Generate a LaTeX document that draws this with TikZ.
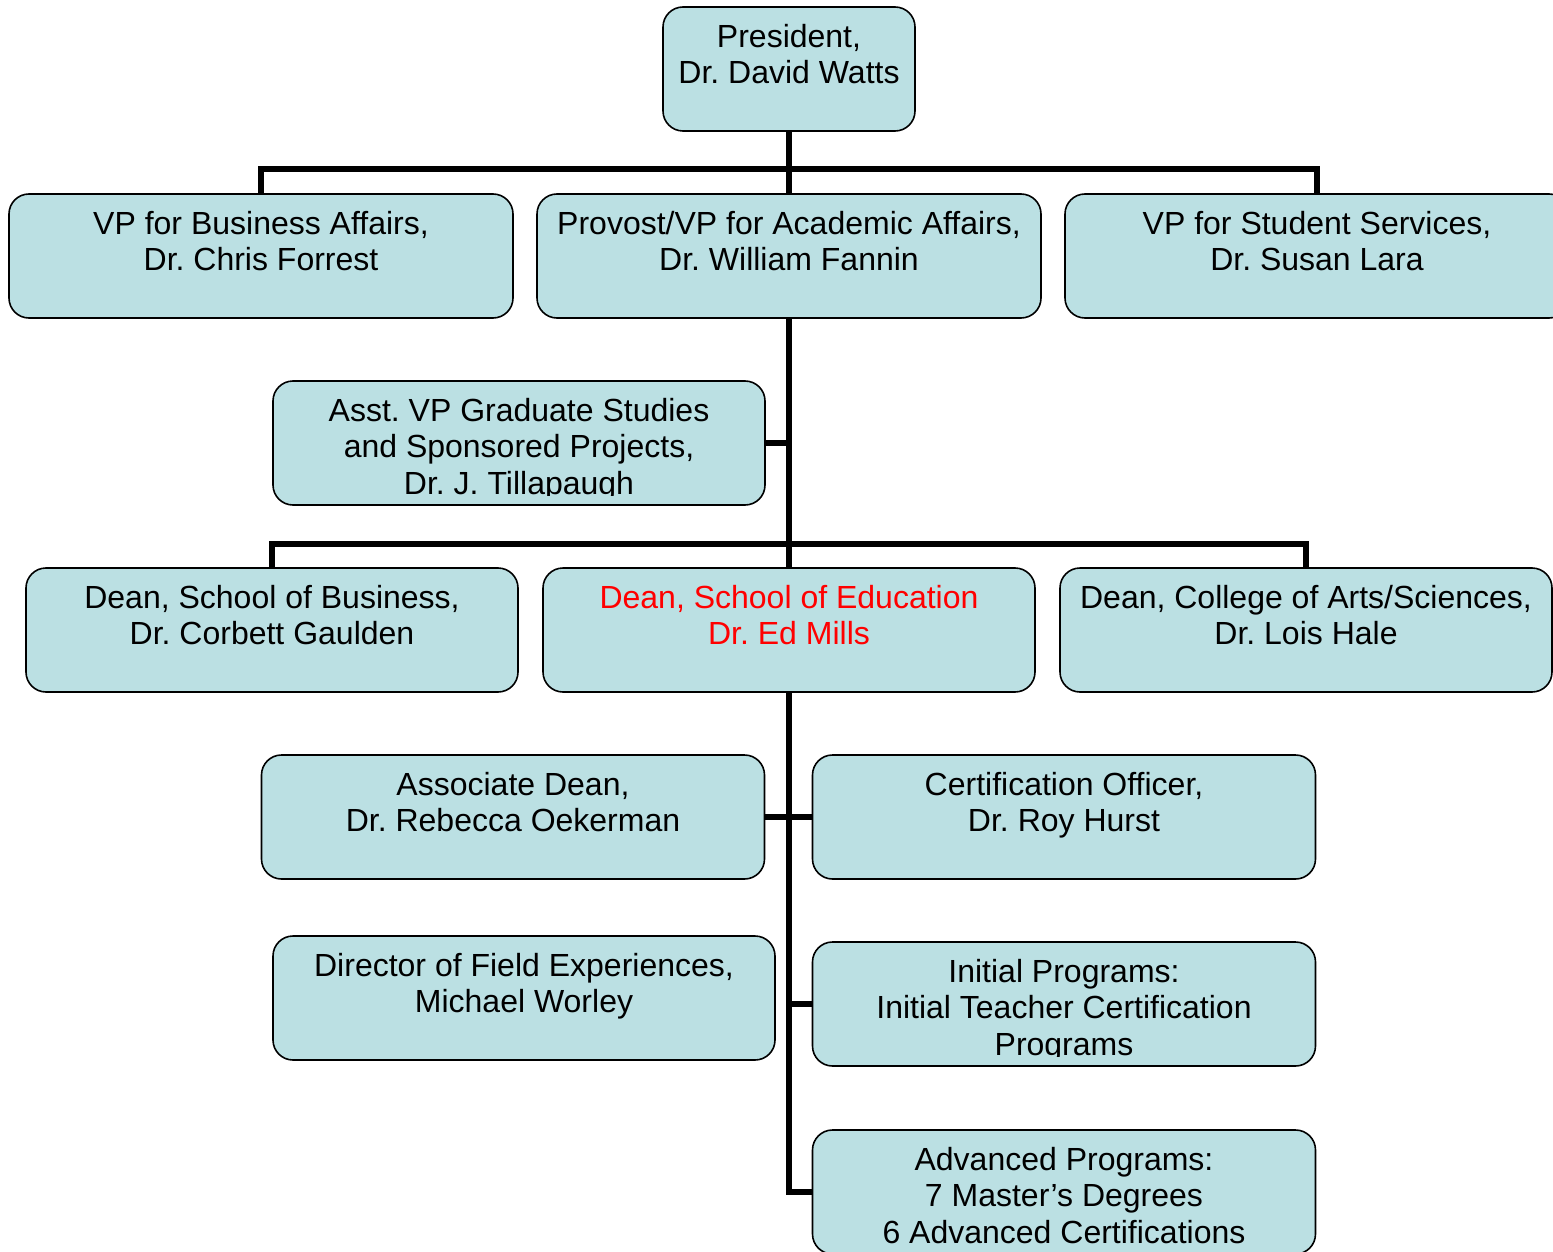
\documentclass[tikz,border=0pt]{standalone}
\usepackage{fontspec}
\setmainfont{Liberation Sans}
\definecolor{boxfill}{HTML}{BBE0E3}
\frenchspacing
\begin{document}
\begin{tikzpicture}[x=1pt,y=-1pt,
  box/.style={draw=black,line width=1.6pt,fill=boxfill,rounded corners=20pt,inner sep=0pt},
  txt/.style={anchor=north,align=center,inner sep=0pt,font=\fontsize{32}{36.5}\selectfont},
  conn/.style={line width=5.5pt}]
\clip (0,0) rectangle (1553,1252);
\fill[white] (0,0) rectangle (1553,1252);
% boxes
\newcommand\orgbox[5]{%
  \node[box,minimum width=#3pt,minimum height=124pt] (#1) at (#2,#4+62) {};
  \begin{scope}
  \clip (#2-#3/2,#4) rectangle (#2+#3/2,#4+114);
  \node[txt] (#1t) at (#2,#4+17) {#5};
  \end{scope}}
\orgbox{pres}{789}{252}{7}{President,\\Dr. David Watts}
\orgbox{vpb}{261}{504}{194}{VP for Business Affairs,\\Dr. Chris Forrest}
\orgbox{prov}{789}{504}{194}{Provost/VP for Academic Affairs,\\Dr. William Fannin}
\orgbox{vps}{1317}{504}{194}{VP for Student Services,\\Dr. Susan Lara}
\orgbox{asst}{519}{492}{381}{Asst. VP Graduate Studies\\and Sponsored Projects,\\Dr. J. Tillapaugh}
\orgbox{dbus}{272}{492}{568}{Dean, School of Business,\\Dr. Corbett Gaulden}
\orgbox{ded}{789}{492}{568}{\textcolor{red}{Dean, School of Education}\\\textcolor{red}{Dr. Ed Mills}}
\orgbox{dart}{1306}{492}{568}{Dean, College of Arts/Sciences,\\Dr. Lois Hale}
\orgbox{assoc}{513}{503}{755}{Associate Dean,\\Dr. Rebecca Oekerman}
\orgbox{cert}{1064}{503}{755}{Certification Officer,\\Dr. Roy Hurst}
\orgbox{dir}{524}{502}{936}{Director of Field Experiences,\\Michael Worley}
\orgbox{init}{1064}{503}{942}{Initial Programs:\\Initial Teacher Certification\\Programs}
\orgbox{adv}{1064}{503}{1130}{Advanced Programs:\\7 Master’s Degrees\\6 Advanced Certifications}
% connectors
\coordinate (b1) at (789,169);
\coordinate (b2) at (789,544);
\draw[conn] (pres.south) -- (prov.north);
\draw[conn] (vpb.north) |- (b1) -| (vps.north);
\draw[conn] (prov.south) -- (ded.north);
\draw[conn] (asst.east) -- (asst.east -| b2);
\draw[conn] (dbus.north) |- (b2) -| (dart.north);
\coordinate (sp) at (789,817);
\draw[conn] (ded.south) -- (ded.south |- adv.west) -- (adv.west);
\draw[conn] (assoc.east) -- (cert.west);
\draw[conn] (init.west -| sp) -- (init.west);
\end{tikzpicture}
\end{document}
